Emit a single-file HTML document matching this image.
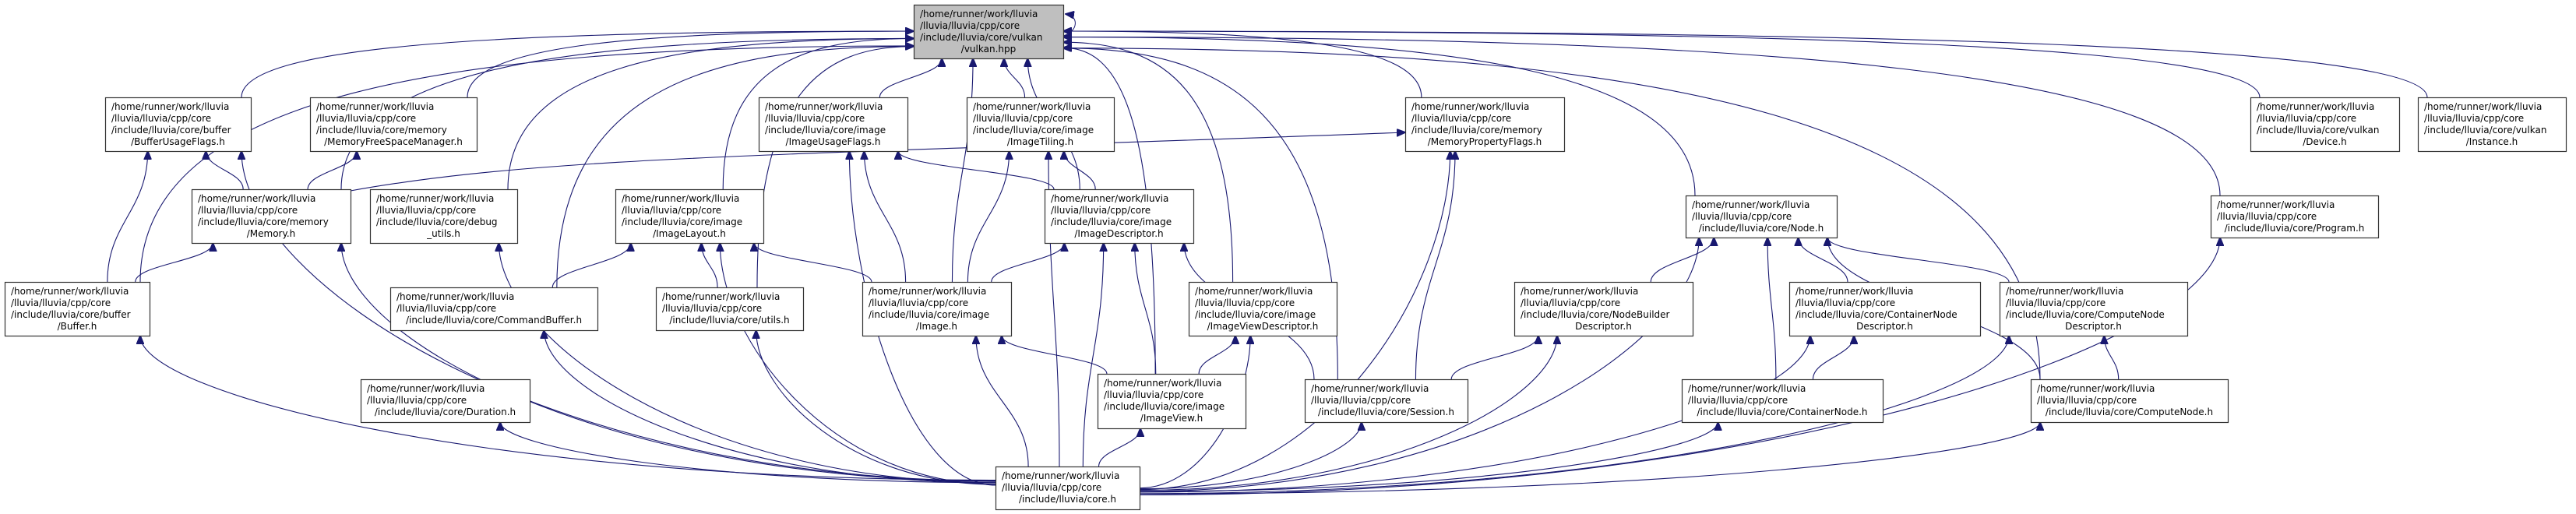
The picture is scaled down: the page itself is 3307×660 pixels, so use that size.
<!DOCTYPE html>
<html><head><meta charset="utf-8"><style>
html,body{margin:0;padding:0;background:#fff;}
svg{display:block}
text{font-family:"DejaVu Sans","Liberation Sans",sans-serif;font-size:12px;fill:#000}
</style></head><body>
<svg id="g" width="3307" height="660" xmlns="http://www.w3.org/2000/svg">
<defs><marker id="a" viewBox="0 0 12 10" refX="11" refY="5" markerWidth="12" markerHeight="10" markerUnits="userSpaceOnUse" orient="auto"><path d="M0,0 L12,5 L0,10 z" fill="#191970" stroke="#191970"/></marker></defs>
<g id="e"></g><g id="n"></g>
</svg>
<script>
var N={
V:[1173,6,1365,75,["/home/runner/work/lluvia","/lluvia/lluvia/cpp/core","/include/lluvia/core/vulkan","/vulkan.hpp"]],
BUF:[135,125,322,194,["/home/runner/work/lluvia","/lluvia/lluvia/cpp/core","/include/lluvia/core/buffer","/BufferUsageFlags.h"]],
MFS:[398,125,612,194,["/home/runner/work/lluvia","/lluvia/lluvia/cpp/core","/include/lluvia/core/memory","/MemoryFreeSpaceManager.h"]],
IUF:[974,125,1165,194,["/home/runner/work/lluvia","/lluvia/lluvia/cpp/core","/include/lluvia/core/image","/ImageUsageFlags.h"]],
ITL:[1241,125,1430,194,["/home/runner/work/lluvia","/lluvia/lluvia/cpp/core","/include/lluvia/core/image","/ImageTiling.h"]],
MPF:[1804,125,2008,194,["/home/runner/work/lluvia","/lluvia/lluvia/cpp/core","/include/lluvia/core/memory","/MemoryPropertyFlags.h"]],
DEV:[2889,125,3080,194,["/home/runner/work/lluvia","/lluvia/lluvia/cpp/core","/include/lluvia/core/vulkan","/Device.h"]],
INS:[3104,125,3294,194,["/home/runner/work/lluvia","/lluvia/lluvia/cpp/core","/include/lluvia/core/vulkan","/Instance.h"]],
MEM:[246,243,450,312,["/home/runner/work/lluvia","/lluvia/lluvia/cpp/core","/include/lluvia/core/memory","/Memory.h"]],
DBG:[475,243,664,312,["/home/runner/work/lluvia","/lluvia/lluvia/cpp/core","/include/lluvia/core/debug","_utils.h"]],
ILY:[790,243,980,312,["/home/runner/work/lluvia","/lluvia/lluvia/cpp/core","/include/lluvia/core/image","/ImageLayout.h"]],
IDS:[1341,243,1532,312,["/home/runner/work/lluvia","/lluvia/lluvia/cpp/core","/include/lluvia/core/image","/ImageDescriptor.h"]],
NOD:[2164,251,2358,305,["/home/runner/work/lluvia","/lluvia/lluvia/cpp/core","/include/lluvia/core/Node.h"]],
PRG:[2838,251,3053,305,["/home/runner/work/lluvia","/lluvia/lluvia/cpp/core","/include/lluvia/core/Program.h"]],
BF:[6,362,192,431,["/home/runner/work/lluvia","/lluvia/lluvia/cpp/core","/include/lluvia/core/buffer","/Buffer.h"]],
CB:[501,369,767,424,["/home/runner/work/lluvia","/lluvia/lluvia/cpp/core","/include/lluvia/core/CommandBuffer.h"]],
UT:[842,369,1031,424,["/home/runner/work/lluvia","/lluvia/lluvia/cpp/core","/include/lluvia/core/utils.h"]],
IMG:[1107,362,1298,431,["/home/runner/work/lluvia","/lluvia/lluvia/cpp/core","/include/lluvia/core/image","/Image.h"]],
IVD:[1526,362,1716,431,["/home/runner/work/lluvia","/lluvia/lluvia/cpp/core","/include/lluvia/core/image","/ImageViewDescriptor.h"]],
NBD:[1944,362,2173,431,["/home/runner/work/lluvia","/lluvia/lluvia/cpp/core","/include/lluvia/core/NodeBuilder","Descriptor.h"]],
CND:[2297,362,2542,431,["/home/runner/work/lluvia","/lluvia/lluvia/cpp/core","/include/lluvia/core/ContainerNode","Descriptor.h"]],
CPD:[2567,362,2808,431,["/home/runner/work/lluvia","/lluvia/lluvia/cpp/core","/include/lluvia/core/ComputeNode","Descriptor.h"]],
DUR:[463,487,680,542,["/home/runner/work/lluvia","/lluvia/lluvia/cpp/core","/include/lluvia/core/Duration.h"]],
IV:[1409,480,1599,550,["/home/runner/work/lluvia","/lluvia/lluvia/cpp/core","/include/lluvia/core/image","/ImageView.h"]],
SES:[1675,487,1884,542,["/home/runner/work/lluvia","/lluvia/lluvia/cpp/core","/include/lluvia/core/Session.h"]],
CN:[2159,487,2417,542,["/home/runner/work/lluvia","/lluvia/lluvia/cpp/core","/include/lluvia/core/ContainerNode.h"]],
CPN:[2607,487,2860,542,["/home/runner/work/lluvia","/lluvia/lluvia/cpp/core","/include/lluvia/core/ComputeNode.h"]],
CORE:[1278,599,1463,654,["/home/runner/work/lluvia","/lluvia/lluvia/cpp/core","/include/lluvia/core.h"]]
};
var E=[
["BUF","V"],["MFS","V"],["MEM","V"],["DBG","V"],["ILY","V"],["CB","V"],["UT","V"],["BF","V"],["IUF","V"],["ITL","V"],["IDS","V"],["IMG","V"],["IVD","V"],["IV","V"],["SES","V"],["MPF","V"],["NOD","V"],["DEV","V"],["INS","V"],["PRG","V"],["CPN","V"],
["BF","BUF"],["BF","MEM"],["MEM","BUF"],["MEM","MFS"],["MEM","MPF"],
["CORE","BF"],["CORE","BUF"],["CORE","MEM"],["CORE","DBG"],["CORE","DUR"],["CORE","CB"],["CORE","ILY"],["CORE","UT"],["CORE","IMG"],["CORE","IUF"],["CORE","ITL"],["CORE","IDS"],["CORE","IV"],["CORE","IVD"],["CORE","SES"],["CORE","MPF"],["CORE","NOD"],["CORE","NBD"],["CORE","CN"],["CORE","CND"],["CORE","CPN"],["CORE","CPD"],["CORE","PRG"],
["CB","ILY"],["UT","ILY"],["IMG","ILY"],["IMG","IUF"],["IMG","ITL"],["IMG","IDS"],["IDS","IUF"],["IDS","ITL"],
["IV","IMG"],["IV","IDS"],["IV","IVD"],["SES","IDS"],["SES","MPF"],["SES","NBD"],
["NBD","NOD"],["CND","NOD"],["CPD","NOD"],["CN","NOD"],["CN","CND"],["CPN","NOD"],["CPN","CPD"]
];
var ns="http://www.w3.org/2000/svg",eg=document.getElementById("e"),ng=document.getElementById("n");
function cl(v,a,b){return Math.max(a+12,Math.min(b-12,v));}
E.forEach(function(p){
 var s=N[p[0]],t=N[p[1]];
 var scx=(s[0]+s[2])/2,tcx=(t[0]+t[2])/2,sx,sy,ex,ey,d;
 if(p[1]=="V"&&(scx<t[0]-120||scx>t[2]+120)){
   ex=scx<t[0]?t[0]:t[2]; ey=40+(scx<t[0]?(s[1]-125)*0.08:(s[1]-125)*0.06);
   sx=cl(scx+(ex-scx)*0.15,s[0],s[2]); sy=s[1];
   d="M"+sx+","+sy+" C"+sx+","+(sy-(sy-ey)*0.8)+" "+(sx+(ex-sx)*0.4)+","+ey+" "+ex+","+ey;
 } else if(p[0]=="CORE"&&(tcx<s[0]-120||tcx>s[2]+120)){
   sx=tcx<s[0]?s[0]:s[2]; sy=625+(tcx<s[0]?-1:1)*Math.min(15,Math.abs(tcx-1370)/150);
   ex=cl(tcx+(sx-tcx)*0.1,t[0],t[2]); ey=t[3];
   d="M"+sx+","+sy+" C"+(sx+(ex-sx)*0.6)+","+sy+" "+ex+","+(sy-(sy-ey)*0.6)+" "+ex+","+ey;
 } else if(p[0]=="MEM"&&p[1]=="MPF"){
   sx=s[2];sy=s[1]+2;ex=t[0];ey=170;
   d="M"+sx+","+sy+" C700,200 1000,200 "+ex+","+ey;
 } else {
   sx=cl(scx+(tcx-scx)*0.3,s[0],s[2]); sy=s[1];
   ex=cl(tcx+(scx-tcx)*0.3,t[0],t[2]); ey=t[3];
   var m=(sy-ey)*0.45;
   d="M"+sx+","+sy+" C"+sx+","+(sy-m)+" "+ex+","+(ey+m)+" "+ex+","+ey;
 }
 var pa=document.createElementNS(ns,"path");
 pa.setAttribute("d",d);pa.setAttribute("fill","none");pa.setAttribute("stroke","#191970");pa.setAttribute("stroke-width","1.1");pa.setAttribute("marker-end","url(#a)");
 eg.appendChild(pa);
});
var sl=document.createElementNS(ns,"path");
sl.setAttribute("d","M1365,46 C1385,40 1385,20 1368,18");sl.setAttribute("fill","none");sl.setAttribute("stroke","#191970");sl.setAttribute("marker-end","url(#a)");eg.appendChild(sl);
for(var k in N){
 var b=N[k],r=document.createElementNS(ns,"rect");
 r.setAttribute("x",b[0]+0.5);r.setAttribute("y",b[1]+0.5);r.setAttribute("width",b[2]-b[0]);r.setAttribute("height",b[3]-b[1]);
 r.setAttribute("fill",k=="V"?"#bfbfbf":"#fff");r.setAttribute("stroke","#333");r.setAttribute("stroke-width","1.2");
 ng.appendChild(r);
 var L=b[4];
 for(var i=0;i<L.length;i++){
  var tx=document.createElementNS(ns,"text");
  tx.textContent=L[i];
  var last=(i==L.length-1);
  if(last){tx.setAttribute("x",(b[0]+b[2])/2);tx.setAttribute("text-anchor","middle");}
  else tx.setAttribute("x",b[0]+8);
  tx.setAttribute("y",b[1]+16+i*15);
  ng.appendChild(tx);
 }
}
</script>
</body></html>
